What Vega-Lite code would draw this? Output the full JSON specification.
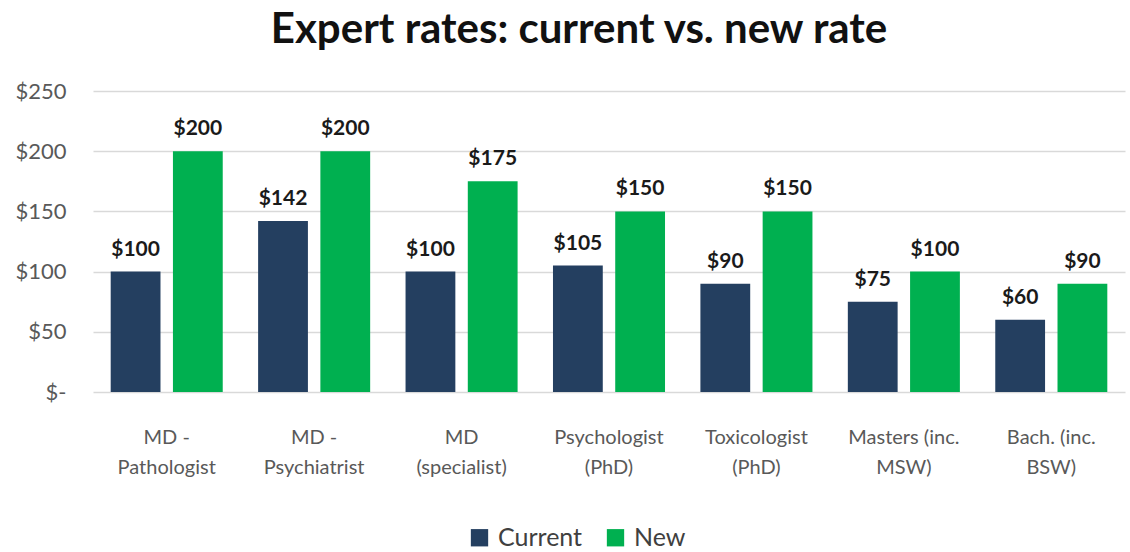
{
  "$schema": "https://vega.github.io/schema/vega-lite/v6.json",
  "width": 1032,
  "height": 301,
  "autosize": "none",
  "padding": {"left": 93, "top": 91, "right": 5, "bottom": 160},
  "background": "white",
  "config": {"font": "Lato", "view": {"stroke": null}},
  "title": {"text": "Expert rates: current vs. new rate", "fontSize": 42, "fontWeight": "bold", "color": "#111111", "anchor": "middle", "offset": 28, "dx": -30, "font": "Lato"},
  "data": {"values": [
    {"cat": "MD -|Pathologist", "series": "Current", "rate": 100},
    {"cat": "MD -|Pathologist", "series": "New", "rate": 200},
    {"cat": "MD -|Psychiatrist", "series": "Current", "rate": 142},
    {"cat": "MD -|Psychiatrist", "series": "New", "rate": 200},
    {"cat": "MD|(specialist)", "series": "Current", "rate": 100},
    {"cat": "MD|(specialist)", "series": "New", "rate": 175},
    {"cat": "Psychologist|(PhD)", "series": "Current", "rate": 105},
    {"cat": "Psychologist|(PhD)", "series": "New", "rate": 150},
    {"cat": "Toxicologist|(PhD)", "series": "Current", "rate": 90},
    {"cat": "Toxicologist|(PhD)", "series": "New", "rate": 150},
    {"cat": "Masters (inc.|MSW)", "series": "Current", "rate": 75},
    {"cat": "Masters (inc.|MSW)", "series": "New", "rate": 100},
    {"cat": "Bach. (inc.|BSW)", "series": "Current", "rate": 60},
    {"cat": "Bach. (inc.|BSW)", "series": "New", "rate": 90}
  ]},
  "encoding": {
    "x": {"field": "cat", "type": "nominal", "sort": null,
      "scale": {"paddingInner": 0.24, "paddingOuter": 0.12},
      "axis": {"title": null, "labelAngle": 0, "labelExpr": "split(datum.label, '|')", "labelFontSize": 20, "labelColor": "#595959", "labelLineHeight": 30, "labelPadding": 35, "ticks": false, "domain": false, "labelFont": "Lato"}},
    "xOffset": {"field": "series", "type": "nominal", "scale": {"paddingInner": 0.2, "paddingOuter": 0}},
    "y": {"field": "rate", "type": "quantitative",
      "scale": {"domain": [0, 250]},
      "axis": {"title": null, "values": [0, 50, 100, 150, 200, 250], "labelExpr": "datum.value == 0 ? '$-' : '$' + datum.value", "labelFontSize": 22, "labelColor": "#595959", "labelPadding": 27, "ticks": false, "domain": false, "gridColor": "#d9d9d9", "gridWidth": 1.5, "labelFont": "Lato"}}
  },
  "layer": [
    {"mark": {"type": "bar"},
     "encoding": {"color": {"field": "series", "type": "nominal",
       "scale": {"domain": ["Current", "New"], "range": ["#243f60", "#00b050"]},
       "legend": {"title": null, "orient": "none", "legendX": 374, "legendY": 434, "direction": "horizontal", "symbolType": "square", "symbolSize": 300, "symbolStrokeWidth": 0, "labelFontSize": 25, "labelColor": "#404040", "columnPadding": 20, "labelOffset": 6, "labelFont": "Lato"}}}},
    {"mark": {"type": "text", "baseline": "bottom", "dy": -12, "fontSize": 21, "fontWeight": "bold", "color": "#1a1a1a", "font": "Lato"},
     "encoding": {"text": {"field": "rate", "type": "quantitative", "format": "$.0f"}}}
  ]
}
